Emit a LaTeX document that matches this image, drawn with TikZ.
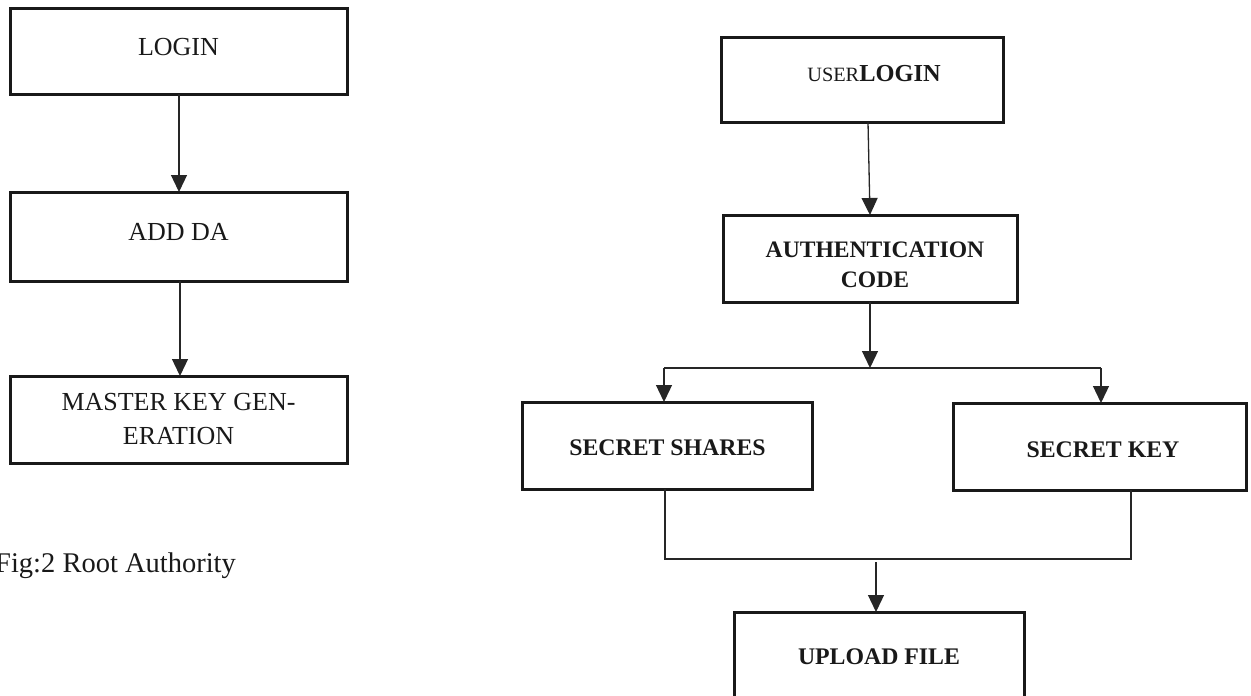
\documentclass[tikz,border=0pt]{standalone}
\usepackage{fontspec}
\setmainfont{Liberation Serif}
\usetikzlibrary{arrows.meta}
\tikzset{
  box/.style={draw=black!90, line width=3pt, rectangle, inner sep=0pt},
  conn/.style={draw=black!85, line width=1.3pt},
  arr/.style={conn, -{Triangle[width=16pt,length=17pt]}},
  reg/.style={font=\fontsize{26}{29}\selectfont, text=black!90, inner sep=0pt, align=center},
  bld/.style={font=\fontsize{23.8}{29}\selectfont\bfseries, text=black!90, inner sep=0pt, align=center},
}
\newcommand{\boxat}[5]{% name, x1, y1, x2, y2
  \node[box, minimum width={#4-#2}, minimum height={#5-#3}] (#1) at ({(#2+#4)/2},{(#3+#5)/2}) {};}
\begin{document}
\begin{tikzpicture}[x=1pt,y=-1pt]
\useasboundingbox (0,0) rectangle (1251,696);
% left column
\boxat{login}{10}{8}{347}{94}
\boxat{addda}{10}{192}{347}{281}
\boxat{master}{10}{376}{347}{463}
\node[reg] (loginT) at (178.5,47) {LOGIN};
\node[reg] (adddaT) at (178.5,231.5) {ADD DA};
\node[reg, font=\fontsize{26}{34}\selectfont] (masterT) at (178.5,419) {MASTER KEY GEN-\\ERATION};
\draw[arr] (179,94) -- (179,192);
\draw[arr] (180,281) -- (180,376);
\node[reg, anchor=west, font=\fontsize{28.5}{32}\selectfont] (figT) at (-5,566) {Fig:2 Root Authority};
% right column
\boxat{ulogin}{721}{37}{1003}{122}
\boxat{auth}{723}{215}{1017}{302}
\boxat{shares}{522}{402}{812}{489}
\boxat{skey}{953}{403}{1246}{490}
\draw[box] (734,740) -- (734,612) -- (1024,612) -- (1024,740);
\coordinate (upTop) at (876,612);
\node[inner sep=0pt, font=\fontsize{20.3}{24}\selectfont, text=black!90] (uloginT) at (874,74) {USER\textbf{\fontsize{24.4}{24}\selectfont LOGIN}};
\node[bld, font=\fontsize{23.6}{30}\selectfont\bfseries] (authT) at (875,265) {AUTHENTICATION\\CODE};
\node[bld] (sharesT) at (667.5,447.5) {SECRET SHARES};
\node[bld] (skeyT) at (1103,449.5) {SECRET KEY};
\node[bld] (uploadT) at (879,657) {UPLOAD FILE};
\coordinate (j1) at (870,368);
\coordinate (jl) at (664,368);
\coordinate (jr) at (1101,368);
\draw[arr] (868,122) -- (870,215);
\draw[arr] (870,302) -- (j1);
\draw[conn] (jl) -- (jr);
\draw[arr] (jl) -- (664,402);
\draw[arr] (jr) -- (1101,403);
\coordinate (bl) at (665,559);
\coordinate (br) at (1131,559);
\draw[conn] (665,489) -- (bl) -- (br) -- (1131,490);
\draw[arr] (876,562) -- (upTop);
\end{tikzpicture}
\end{document}
